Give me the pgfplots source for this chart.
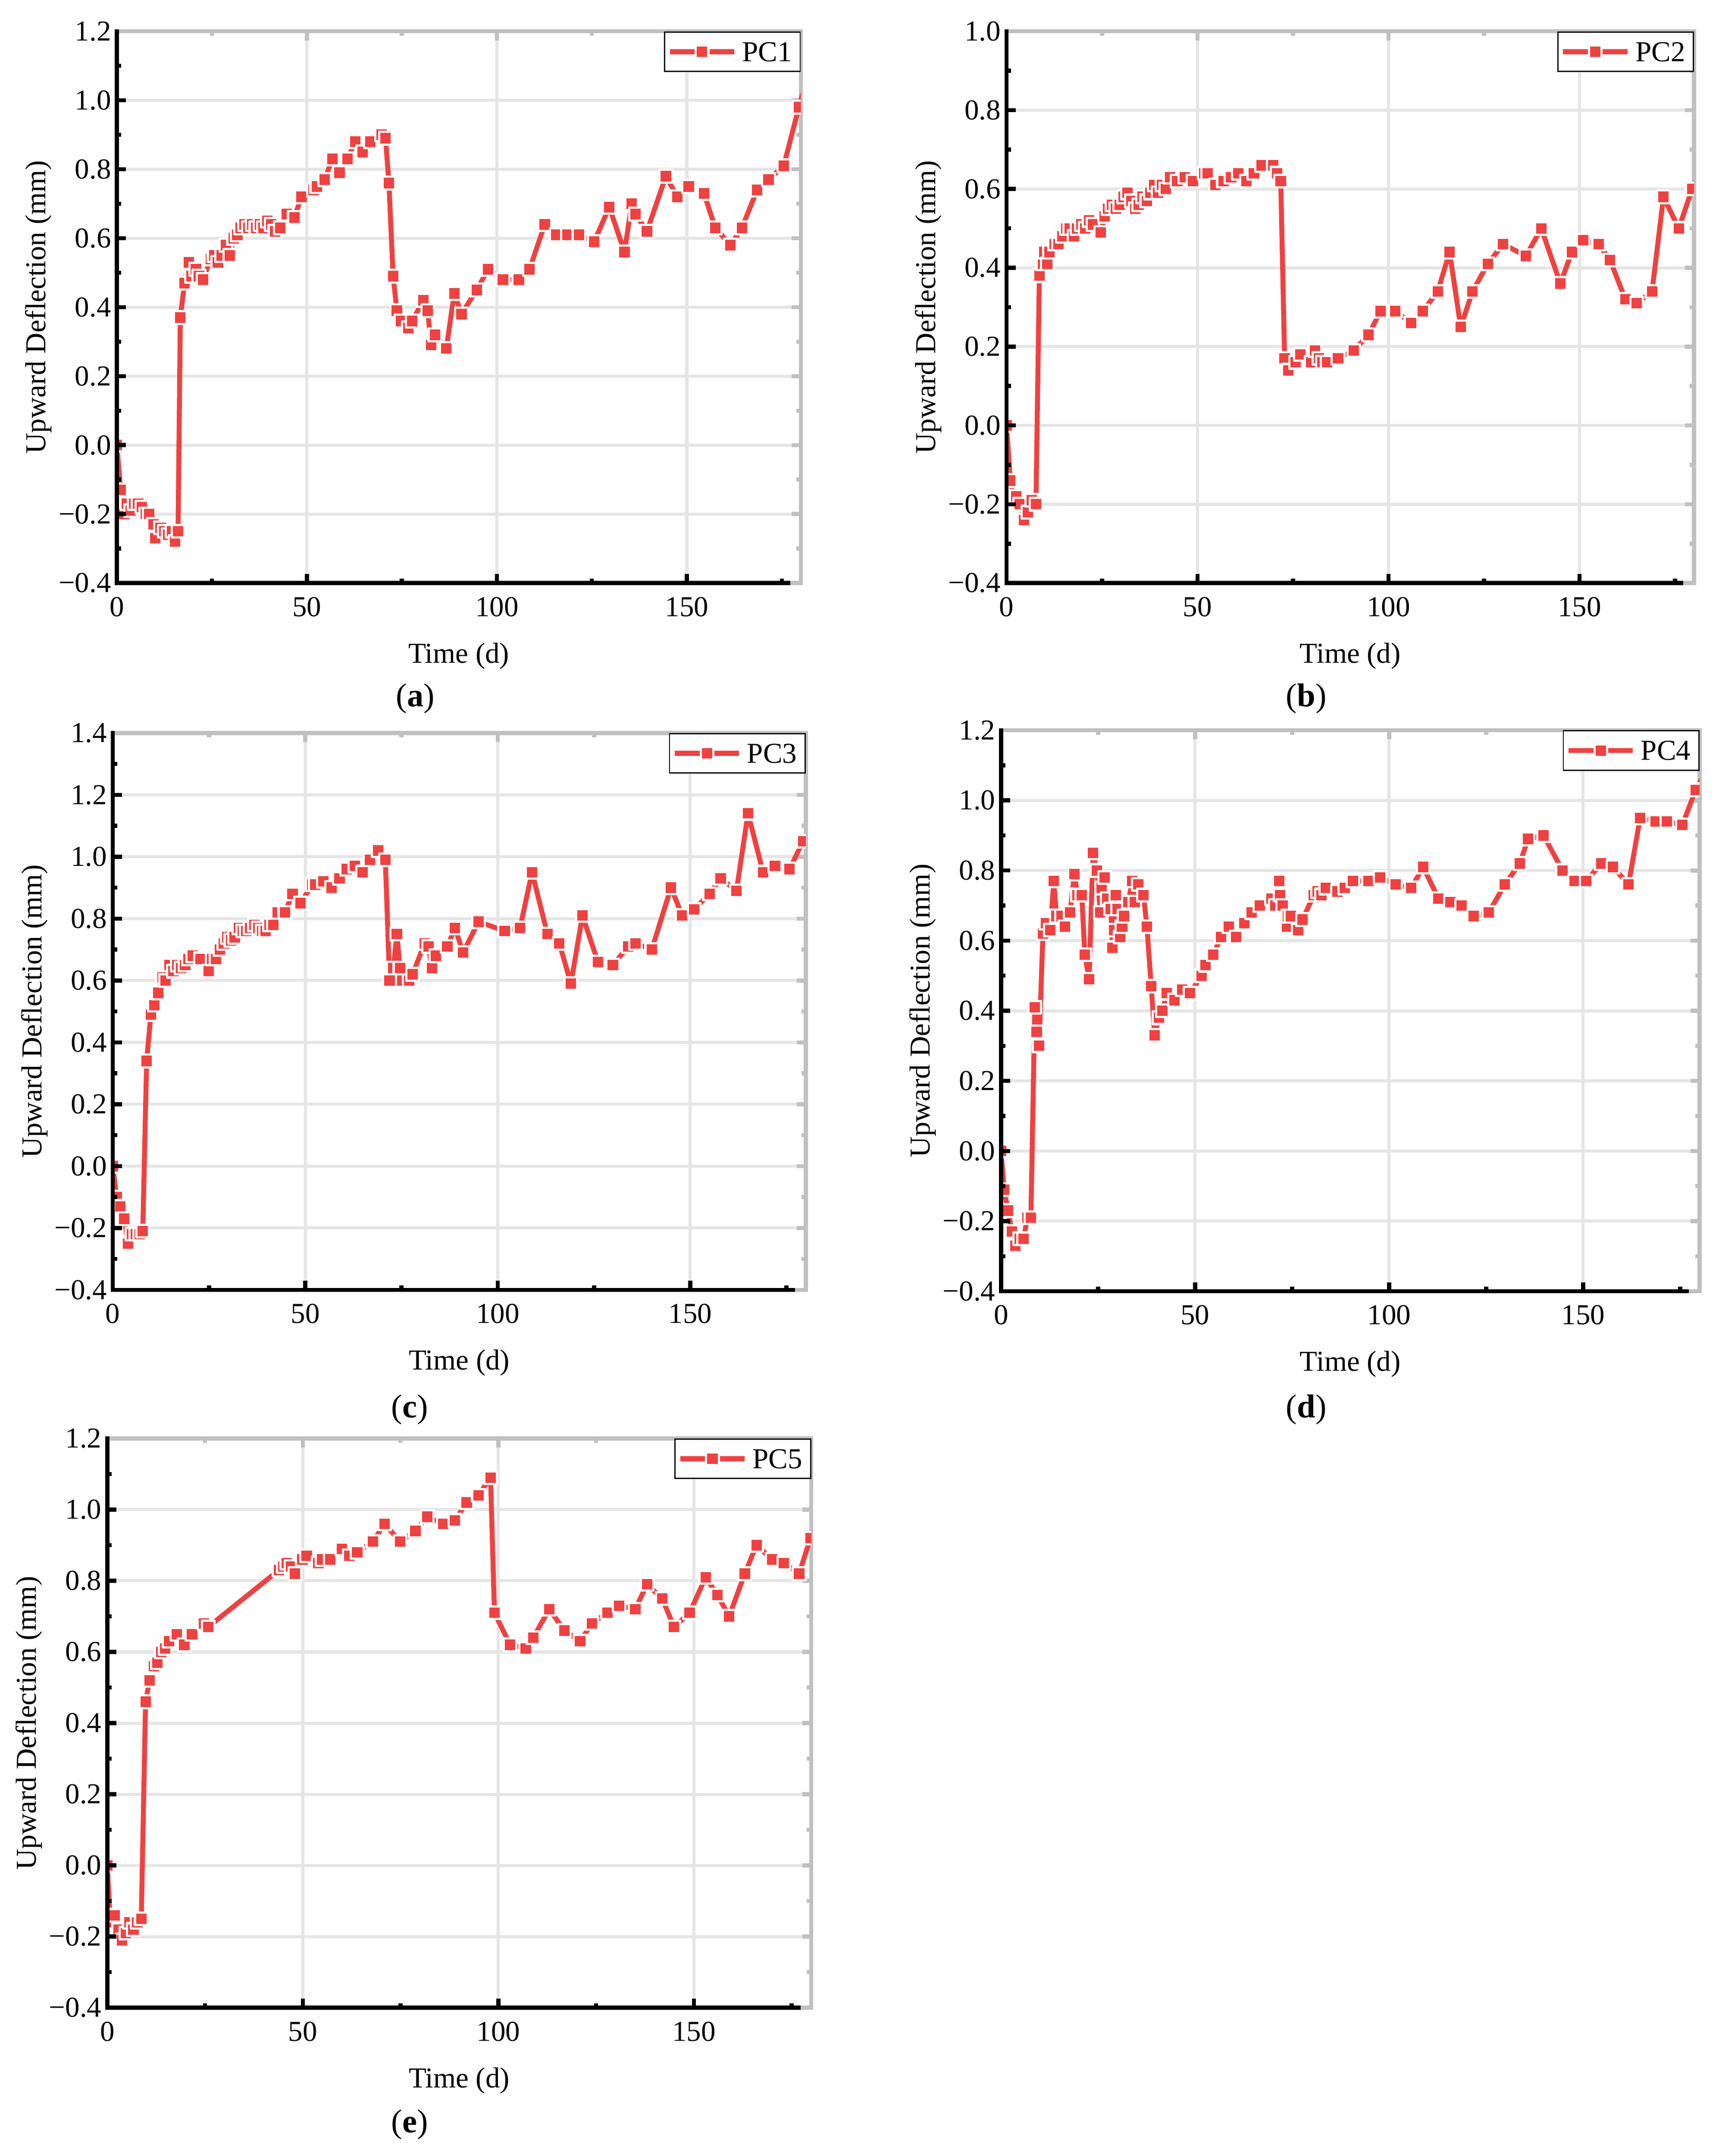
\documentclass[border=0pt]{standalone}
\usepackage{fontspec}
\setmainfont{Liberation Serif}
\usepackage{pgfplots}
\pgfplotsset{compat=1.18}
\definecolor{pcred}{RGB}{240,65,65}
\definecolor{gridgray}{RGB}{229,229,229}
\definecolor{framegray}{RGB}{192,192,192}
\definecolor{axk}{RGB}{0,0,0}
\newcommand{\fsz}{\fontsize{10.5}{12.6}\selectfont}

\pgfplotsset{
  common/.style={
    scale only axis, anchor=south west,
    xmin=0, xmax=180, ymin=-0.4,
    xtick={0,50,100,150}, minor xtick={25,75,125,175},
    tick align=inside,
    major tick length=3.3pt, minor tick length=1.6pt,
  },
  frameaxis/.style={common,
    grid=major, major grid style={draw=gridgray, line width=1.1pt},
    tick pos=right,
    tick style={framegray, line width=1.5pt},
    axis line style={framegray, line width=1.5pt},
    xticklabels={}, yticklabels={},
  },
  dataaxis/.style={common,
    axis x line*=bottom, axis y line*=left,
    axis line style={draw=none},
    tick style={draw=none},
    xticklabels={0,50,100,150},
    clip mode=individual, clip marker paths=true,
    tick label style={font=\fsz\rmfamily},
    label style={font=\fsz},
    xticklabel style={anchor=north, inner sep=0pt, yshift=-4.9pt},
    yticklabel style={anchor=east, inner sep=0pt, xshift=-1.9pt},
    xlabel={Time (d)}, ylabel={Upward Deflection (mm)},
    xlabel style={at={([yshift=-26.5pt]axis description cs:0.5,0)}, anchor=center},
    ylabel style={at={([xshift=-28.5pt]axis description cs:0,0.5)}, anchor=center},
    legend style={at={(1,1)}, anchor=north east, draw=black, line width=0.45pt,
      fill=white, inner xsep=1pt, inner ysep=1.2pt,
      nodes={inner xsep=2pt, inner ysep=2.5pt, text depth=0pt}, font=\fsz},
    legend cell align=left,
    legend image code/.code={\draw[mark repeat=2,mark phase=2,##1] plot coordinates {(0pt,0pt) (11.7pt,0pt) (23.4pt,0pt)};},
  },
  pcplot/.style={pcred, line width=1.8pt, line join=round, mark=square*, mark size=2.3pt,
    mark options={draw=white, line width=0.8pt, fill=pcred, solid}},
  yA/.style={ymax=1.2, ytick={-0.4,-0.2,0,0.2,0.4,0.6,0.8,1.0,1.2},
    minor ytick={-0.3,-0.1,0.1,0.3,0.5,0.7,0.9,1.1}},
  yAlab/.style={yticklabels={−0.4,−0.2,0.0,0.2,0.4,0.6,0.8,1.0,1.2}},
  yB/.style={ymax=1.0, ytick={-0.4,-0.2,0,0.2,0.4,0.6,0.8,1.0},
    minor ytick={-0.3,-0.1,0.1,0.3,0.5,0.7,0.9}},
  yBlab/.style={yticklabels={−0.4,−0.2,0.0,0.2,0.4,0.6,0.8,1.0}},
  yC/.style={ymax=1.4, ytick={-0.4,-0.2,0,0.2,0.4,0.6,0.8,1.0,1.2,1.4},
    minor ytick={-0.3,-0.1,0.1,0.3,0.5,0.7,0.9,1.1,1.3}},
  yClab/.style={yticklabels={−0.4,−0.2,0.0,0.2,0.4,0.6,0.8,1.0,1.2,1.4}},
  gA/.style={at={(42.5pt,571.9pt)}, width=248.7pt, height=200.6pt, yA},
  gB/.style={at={(366pt,571.9pt)}, width=250pt, height=200.6pt, yB},
  gC/.style={at={(41pt,314.9pt)}, width=252pt, height=202.5pt, yC},
  gD/.style={at={(364pt,314.4pt)}, width=254pt, height=204pt, yA},
  gE/.style={at={(39pt,53.9pt)}, width=256pt, height=207pt, yA},
}

% black left/bottom axis bars and ticks as filled rectangles
% #1 x0, #2 y0 (axis south west, pt), #3 width, #4 height, #5 number of 0.1 steps
\newcommand{\blackframe}[5]{%
  \fill[axk] ({#1-0.75pt},{#2-0.75pt}) rectangle ({#1+0.75pt},{#2+#4+0.75pt});
  \fill[axk] ({#1-0.75pt},{#2-0.75pt}) rectangle ({#1+#3-3.9pt},{#2+0.75pt});
  \foreach \k in {1,...,7} {%
    \ifodd\k \def\tl{1.6pt}\else\def\tl{3.3pt}\fi
    \fill[axk] ({#1+\k*25/180*#3-0.75pt},{#2}) rectangle ({#1+\k*25/180*#3+0.75pt},{#2+\tl});}
  \pgfmathtruncatemacro\nm{#5-1}
  \foreach \k in {1,...,\nm} {%
    \ifodd\k \def\tl{1.6pt}\else\def\tl{3.3pt}\fi
    \fill[axk] ({#1},{#2+\k/#5*#4-0.75pt}) rectangle ({#1+\tl},{#2+\k/#5*#4+0.75pt});}
}

\begin{document}
\begin{tikzpicture}
\useasboundingbox (0pt,0pt) rectangle (625pt,783.9pt);

% ---------------- (a) PC1 ----------------
\begin{axis}[frameaxis, gA]
\end{axis}
\begin{axis}[dataaxis, gA, yAlab]
\addplot[pcplot] coordinates {
(0,0) (1,-0.13) (1.9,-0.20) (2.6,-0.17) (3.6,-0.19) (4.6,-0.17) (5.6,-0.17) (6.6,-0.18) (7.6,-0.20) (8.5,-0.20)
(9.6,-0.23) (10.1,-0.27) (11.5,-0.24) (12.5,-0.25) (13.5,-0.26) (14.5,-0.25) (15.3,-0.28) (16.1,-0.25)
(16.7,0.37) (17.8,0.47) (18.9,0.53) (19.6,0.49) (20.8,0.51) (21.6,0.49) (22.7,0.48) (24.7,0.54) (25.6,0.55)
(26.6,0.53) (27.6,0.55) (28.7,0.58) (29.7,0.55) (30.7,0.60) (31.7,0.61) (32.6,0.63) (33.6,0.64) (34.6,0.63)
(35.6,0.64) (36.6,0.63) (37.7,0.64) (38.6,0.63) (39.6,0.65) (40.6,0.64) (41.6,0.62) (43,0.63) (44.7,0.67)
(46.7,0.66) (48.6,0.72) (51.8,0.74) (52.6,0.75) (54.7,0.77) (56.7,0.83) (58.6,0.79) (60.7,0.83) (62.7,0.88)
(64.7,0.85) (66.7,0.88) (69.7,0.90) (70.7,0.89) (71.6,0.76) (72.7,0.49) (73.7,0.39) (74.8,0.36) (76.7,0.34)
(77.7,0.36) (80.7,0.42) (81.8,0.39) (82.7,0.29) (83.7,0.32) (86.7,0.28) (88.8,0.44) (90.7,0.38) (94.7,0.45)
(97.7,0.51) (101.6,0.48) (105.8,0.48) (108.6,0.51) (112.6,0.64) (115.6,0.61) (118.6,0.61) (121.6,0.61)
(125.6,0.59) (129.6,0.69) (133.6,0.56) (135.5,0.70) (136.5,0.67) (139.5,0.62) (144.5,0.78) (147.5,0.72)
(150.5,0.75) (154.5,0.73) (157.5,0.63) (161.5,0.58) (164.5,0.63) (168.5,0.74) (171.5,0.77) (175.5,0.81)
(179.5,0.98) (180.5,1.02)
};
\addlegendentry{PC1}
\end{axis}

% ---------------- (b) PC2 ----------------
\begin{axis}[frameaxis, gB]
\end{axis}
\begin{axis}[dataaxis, gB, yBlab]
\addplot[pcplot] coordinates {
(0,0) (1,-0.14) (1.7,-0.18) (2.5,-0.18) (3.5,-0.20) (4.6,-0.24) (5.6,-0.22) (6.6,-0.19) (7.7,-0.20)
(8.6,0.38) (9.5,0.41) (9.9,0.44) (10.7,0.41) (11.2,0.44) (12.6,0.46) (13.6,0.46) (14.6,0.48) (15.7,0.50)
(16.6,0.50) (17.7,0.48) (18.5,0.50) (19.6,0.51) (20.6,0.50) (21.6,0.52) (22.6,0.51) (24.7,0.49) (25.7,0.53)
(26.6,0.55) (27.6,0.56) (28.6,0.55) (29.6,0.56) (30.7,0.58) (31.7,0.59) (32.7,0.57) (33.7,0.55) (34.6,0.56)
(35.6,0.58) (36.7,0.57) (37.7,0.59) (38.7,0.61) (39.7,0.59) (40.7,0.61) (41.7,0.60) (42.8,0.63) (44.7,0.62)
(46.7,0.63) (48.8,0.62) (51.8,0.64) (52.7,0.64) (54.7,0.61) (56.8,0.62) (58.8,0.63) (60.7,0.64) (62.8,0.62)
(64.8,0.64) (66.8,0.66) (69.8,0.66) (70.8,0.64) (71.8,0.62) (72.8,0.17) (73.8,0.14) (75.7,0.16) (76.9,0.18)
(79.8,0.16) (80.8,0.19) (81.8,0.17) (82.7,0.16) (83.9,0.16) (86.8,0.17) (90.9,0.19) (94.8,0.23) (97.9,0.29)
(101.8,0.29) (105.9,0.26) (109,0.29) (112.9,0.34) (116,0.44) (118.9,0.25) (122,0.34) (126,0.41) (130,0.46)
(136,0.43) (140,0.50) (145,0.36) (148,0.44) (151,0.47) (155,0.46) (158,0.42) (162,0.32) (165,0.31)
(169,0.34) (172,0.58) (176,0.50) (179.5,0.60) (180.5,0.62)
};
\addlegendentry{PC2}
\end{axis}

% ---------------- (c) PC3 ----------------
\begin{axis}[frameaxis, gC]
\end{axis}
\begin{axis}[dataaxis, gC, yClab]
\addplot[pcplot] coordinates {
(0,0) (1,-0.10) (2,-0.13) (3,-0.17) (4,-0.25) (5,-0.22) (6,-0.22) (7,-0.22) (7.8,-0.21) (8.8,0.34)
(9.9,0.49) (10.8,0.52) (11.8,0.56) (12.9,0.61) (13.7,0.60) (14.7,0.65) (15.8,0.63) (16.8,0.65) (17.8,0.64)
(18.8,0.65) (19.7,0.67) (20.8,0.68) (22.8,0.67) (24.9,0.63) (25.8,0.67) (26.8,0.67) (27.8,0.70) (28.9,0.72)
(29.7,0.74) (30.7,0.73) (31.7,0.74) (32.8,0.77) (33.8,0.76) (34.7,0.76) (35.7,0.77) (36.8,0.78) (37.8,0.77)
(38.8,0.76) (39.7,0.76) (40.7,0.78) (41.7,0.78) (42.8,0.82) (44.7,0.82) (46.7,0.88) (48.8,0.85) (51.8,0.91)
(52.6,0.91) (54.7,0.92) (56.8,0.90) (58.9,0.93) (60.8,0.96) (62.9,0.97) (64.9,0.95) (66.8,0.99) (68.9,1.02)
(70.8,0.99) (71.9,0.60) (72.9,0.64) (73.8,0.75) (74.6,0.64) (75.2,0.60) (77,0.60) (77.9,0.62) (81,0.72)
(82,0.71) (82.9,0.64) (83.9,0.68) (86.9,0.71) (88.9,0.77) (91,0.69) (95,0.79) (101.8,0.76) (105.8,0.77)
(108.9,0.95) (112.9,0.75) (116,0.72) (119,0.59) (122,0.81) (126,0.66) (129.9,0.65) (133.9,0.71) (135.8,0.72)
(140,0.70) (145,0.90) (147.9,0.81) (151,0.83) (155,0.88) (157.9,0.93) (162,0.89) (165,1.14) (168.9,0.95)
(172,0.97) (175.8,0.96) (179.3,1.05) (180.5,1.07)
};
\addlegendentry{PC3}
\end{axis}

% ---------------- (d) PC4 ----------------
\begin{axis}[frameaxis, gD]
\end{axis}
\begin{axis}[dataaxis, gD, yAlab]
\addplot[pcplot] coordinates {
(0,0) (0.8,-0.11) (1.8,-0.17) (2.8,-0.23) (3.7,-0.27) (4.8,-0.25) (5.8,-0.25) (6.8,-0.19) (7.7,-0.19)
(8.7,0.41) (9.2,0.34) (9.8,0.30) (10.8,0.62) (11.6,0.65) (12.7,0.63) (13.6,0.77) (14.3,0.67) (15.6,0.67)
(16.5,0.64) (17.8,0.68) (18.9,0.79) (19.7,0.73) (20.8,0.73) (21.6,0.56) (22.7,0.49) (23.7,0.85) (24.7,0.80)
(25.6,0.68) (25.9,0.75) (26.7,0.78) (27.4,0.72) (28.3,0.69) (28.7,0.58) (29.2,0.63) (29.6,0.73) (30,0.69)
(30.7,0.61) (31.2,0.64) (31.7,0.67) (32.8,0.71) (33.8,0.77) (34.5,0.71) (35.4,0.76) (36.7,0.73) (37.6,0.64)
(38.7,0.47) (39.6,0.33) (40.7,0.38) (41.6,0.40) (42.7,0.45) (44.7,0.43) (46.7,0.46) (48.7,0.45) (51.7,0.50)
(52.7,0.53) (54.7,0.56) (56.7,0.61) (58.7,0.64) (60.6,0.61) (62.7,0.65) (64.6,0.68) (66.7,0.70) (69.7,0.72)
(70.7,0.70) (71.7,0.77) (71.9,0.73) (72.6,0.70) (73.7,0.64) (73.9,0.67) (74.7,0.67) (76.6,0.63) (77.7,0.66)
(80.6,0.73) (81.6,0.74) (82.6,0.73) (83.7,0.75) (86.7,0.74) (88.6,0.75) (90.7,0.77) (94.7,0.77) (97.7,0.78)
(101.7,0.76) (105.7,0.75) (108.8,0.81) (112.7,0.72) (115.8,0.71) (118.7,0.70) (121.8,0.67) (125.7,0.68)
(129.8,0.76) (133.7,0.82) (135.8,0.89) (139.8,0.90) (144.7,0.80) (147.8,0.77) (150.8,0.77) (154.7,0.82)
(157.7,0.81) (161.7,0.76) (164.7,0.95) (168.7,0.94) (171.6,0.94) (175.6,0.93) (179,1.03) (180.5,1.06)
};
\addlegendentry{PC4}
\end{axis}

% ---------------- (e) PC5 ----------------
\begin{axis}[frameaxis, gE]
\end{axis}
\begin{axis}[dataaxis, gE, yAlab]
\addplot[pcplot] coordinates {
(0,0) (0.8,-0.16) (1.9,-0.14) (2.9,-0.18) (3.8,-0.21) (4.8,-0.19) (5.7,-0.16) (6.7,-0.18) (7.7,-0.16)
(8.7,-0.15) (9.8,0.46) (10.8,0.52) (11.9,0.56) (12.8,0.57) (13.8,0.60) (14.8,0.61) (15.8,0.63) (17.8,0.65)
(19.7,0.62) (21.7,0.65) (24.7,0.68) (25.8,0.67) (43.9,0.83) (45,0.84) (45.9,0.85) (47,0.84) (48,0.82)
(49.9,0.86) (51,0.87) (54,0.85) (54.9,0.86) (57,0.86) (60,0.89) (61.9,0.87) (63.9,0.88) (67.9,0.91)
(70.9,0.96) (74.9,0.91) (78.8,0.94) (81.8,0.98) (85.9,0.96) (88.9,0.97) (91.9,1.02) (94.9,1.04) (98,1.09)
(99,0.71) (103,0.62) (107,0.61) (108.9,0.64) (113,0.72) (116.9,0.66) (120.9,0.63) (123.9,0.68) (127.9,0.71)
(130.9,0.73) (135,0.72) (138,0.79) (141.9,0.75) (144.9,0.67) (148.9,0.71) (153,0.81) (156,0.76) (159,0.70)
(163,0.82) (166,0.90) (170,0.86) (173,0.85) (176.9,0.82) (179.8,0.92) (180.5,0.94)
};
\addlegendentry{PC5}
\end{axis}

% black axes (left and bottom), drawn last
\blackframe{42.5pt}{571.9pt}{248.7pt}{200.6pt}{16}
\blackframe{366pt}{571.9pt}{250pt}{200.6pt}{14}
\blackframe{41pt}{314.9pt}{252pt}{202.5pt}{18}
\blackframe{364pt}{314.4pt}{254pt}{204pt}{16}
\blackframe{39pt}{53.9pt}{256pt}{207pt}{16}

% sub-captions
\node[font=\fontsize{12}{14}\selectfont] at (151pt,529.9pt) {(\textbf{a})};
\node[font=\fontsize{12}{14}\selectfont] at (475pt,529.9pt) {(\textbf{b})};
\node[font=\fontsize{12}{14}\selectfont] at (149pt,271.4pt) {(\textbf{c})};
\node[font=\fontsize{12}{14}\selectfont] at (475pt,271.4pt) {(\textbf{d})};
\node[font=\fontsize{12}{14}\selectfont] at (149pt,11.4pt) {(\textbf{e})};
\end{tikzpicture}
\end{document}
